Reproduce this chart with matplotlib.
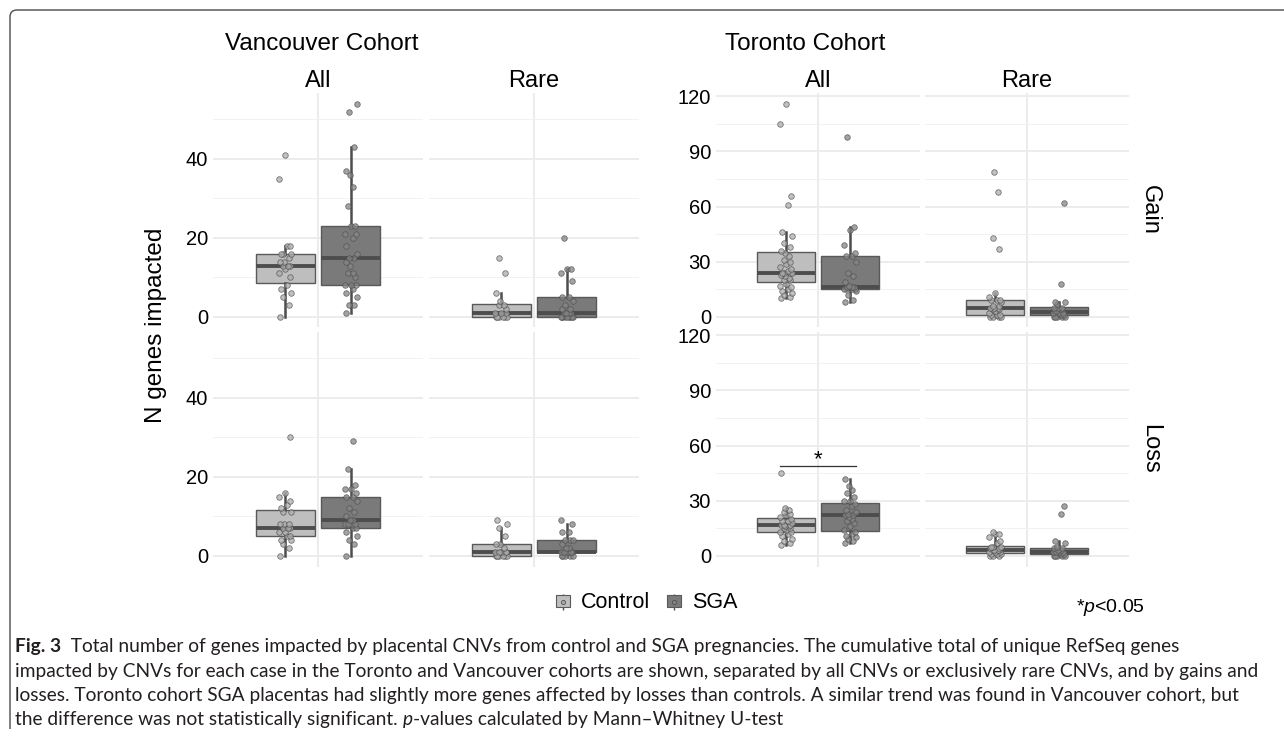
import numpy as np
import matplotlib.pyplot as plt
from matplotlib.lines import Line2D
from matplotlib.patches import Rectangle, PathPatch
from matplotlib.path import Path
from matplotlib.legend_handler import HandlerTuple

plt.rcParams['font.family'] = ['Liberation Sans', 'DejaVu Sans']
plt.rcParams['mathtext.fontset'] = 'custom'
plt.rcParams['mathtext.it'] = 'Liberation Sans:italic'
plt.rcParams['mathtext.rm'] = 'Liberation Sans'

groups = ['Control', 'SGA']
cnv_types = ['All', 'Rare']
events = ['Gain', 'Loss']
cohorts = ['Vancouver', 'Toronto']

# Vancouver cohort - N genes impacted per case
van_all_gain_ctrl = [0, 3, 5, 6, 7, 8, 10, 11, 12, 13, 13, 13, 14, 14, 15, 16, 16, 16, 18, 18, 35, 41]
van_all_gain_sga = [1, 3, 3, 5, 6, 7, 8, 8, 8, 10, 11, 11, 13, 14, 15, 15, 16, 18, 20, 21, 21, 23, 23,
                    28, 33, 36, 37, 43, 52, 54]
van_rare_gain_ctrl = [0, 0, 0, 0, 0, 0, 1, 1, 1, 2, 3, 3, 4, 6, 11, 15]
van_rare_gain_sga = [0, 0, 0, 0, 0, 0, 0, 0, 0, 1, 1, 1, 1, 2, 2, 3, 4, 5, 5, 9, 11, 12, 12, 20]
van_all_loss_ctrl = [0, 2, 3, 4, 4, 5, 5, 6, 6, 7, 7, 7, 8, 8, 8, 11, 11, 12, 13, 14, 15, 16, 30]
van_all_loss_sga = [0, 3, 4, 5, 6, 7, 7, 8, 8, 8, 8, 9, 9, 10, 11, 12, 14, 15, 15, 16, 17, 17, 18, 22, 29]
van_rare_loss_ctrl = [0, 0, 0, 0, 0, 0, 1, 1, 1, 1, 1, 2, 3, 3, 5, 7, 8, 9]
van_rare_loss_sga = [0, 0, 0, 0, 0, 1, 1, 1, 1, 1, 1, 2, 2, 3, 4, 4, 4, 6, 6, 8, 9]

# Toronto cohort
tor_all_gain_ctrl = [10, 11, 12, 13, 14, 15, 16, 17, 18, 20, 20, 21, 22, 23, 24, 24, 24, 24, 25, 26, 27,
                     29, 30, 31, 33, 35, 36, 38, 40, 44, 46, 61, 66, 105, 116]
tor_all_gain_sga = [8, 9, 12, 14, 15, 15, 15, 15, 16, 16, 16, 16, 17, 19, 22, 24, 30, 33, 33, 35, 39,
                    47, 49, 98]
tor_rare_gain_ctrl = [0, 0, 0, 0, 1, 1, 1, 2, 3, 4, 4, 5, 5, 5, 6, 6, 8, 9, 9, 9, 11, 13, 37, 43, 68, 79]
tor_rare_gain_sga = [0, 0, 0, 0, 0, 1, 1, 2, 2, 2, 3, 4, 5, 5, 5, 7, 8, 8, 18, 62]
tor_all_loss_ctrl = [6, 7, 8, 9, 11, 12, 13, 13, 14, 15, 15, 16, 16, 17, 17, 17, 18, 19, 19, 20, 21,
                     22, 23, 24, 25, 26, 45]
tor_all_loss_sga = [7, 8, 9, 10, 11, 12, 13, 14, 16, 18, 19, 20, 21, 22, 22, 23, 24, 25, 27, 28, 30,
                    30, 32, 34, 36, 38, 42]
tor_rare_loss_ctrl = [0, 0, 0, 1, 1, 1, 2, 2, 2, 3, 3, 3, 3, 4, 4, 5, 5, 5, 7, 8, 10, 12, 12, 13]
tor_rare_loss_sga = [0, 0, 0, 0, 0, 1, 1, 2, 2, 2, 2, 3, 3, 4, 4, 5, 7, 8, 23, 27]

data = {
    ('Vancouver', 'Gain', 'All'): (van_all_gain_ctrl, van_all_gain_sga),
    ('Vancouver', 'Gain', 'Rare'): (van_rare_gain_ctrl, van_rare_gain_sga),
    ('Vancouver', 'Loss', 'All'): (van_all_loss_ctrl, van_all_loss_sga),
    ('Vancouver', 'Loss', 'Rare'): (van_rare_loss_ctrl, van_rare_loss_sga),
    ('Toronto', 'Gain', 'All'): (tor_all_gain_ctrl, tor_all_gain_sga),
    ('Toronto', 'Gain', 'Rare'): (tor_rare_gain_ctrl, tor_rare_gain_sga),
    ('Toronto', 'Loss', 'All'): (tor_all_loss_ctrl, tor_all_loss_sga),
    ('Toronto', 'Loss', 'Rare'): (tor_rare_loss_ctrl, tor_rare_loss_sga),
}
significant = [('Toronto', 'Loss', 'All')]

major_ticks = {'Vancouver': [0, 20, 40], 'Toronto': [0, 30, 60, 90, 120]}
minor_ticks = {'Vancouver': [10, 30, 50], 'Toronto': [15, 45, 75, 105]}

box_fill = ['#bebebe', '#7a7a7a']
pt_fill = ['#acacac', '#858585']
edge_col = '#595959'
line_col = '#4d4d4d'

W, H = 1284, 737
fig = plt.figure(figsize=(W / 100, H / 100), dpi=100)


def px_axes(x, y, w, h):
    return fig.add_axes([x / W, 1 - (y + h) / H, w / W, h / H])


def fy(y):
    return 1 - y / H


panel_x = {'Vancouver': [213, 429], 'Toronto': [716, 925]}
panel_w = {'Vancouver': 210, 'Toronto': 204}
row_y = [93, 332]
row_h = 234.5

dodge = 0.1875
box_w = 0.3375
jit = np.array([-0.03, 0.02, -0.01, 0.035, -0.025, 0.01, 0.03, -0.035, 0.0, 0.025, -0.015, 0.015, -0.005])

for cohort in cohorts:
    allv = [v for k, pair in data.items() if k[0] == cohort for g in pair for v in g]
    ymax = max(allv)
    ylo, yhi = -0.05 * ymax, 1.05 * ymax
    for r, ev in enumerate(events):
        for c, ty in enumerate(cnv_types):
            ax = px_axes(panel_x[cohort][c], row_y[r], panel_w[cohort], row_h)
            pair = data[(cohort, ev, ty)]
            for gi, vals in enumerate(pair):
                pos = 1 + (gi * 2 - 1) * dodge
                ax.boxplot(vals, positions=[pos], widths=box_w, whis=1.5, showfliers=False,
                           showcaps=False, patch_artist=True, manage_ticks=False,
                           boxprops=dict(facecolor=box_fill[gi], edgecolor=edge_col, lw=1.0),
                           medianprops=dict(color=line_col, lw=2.8, solid_capstyle='butt'),
                           whiskerprops=dict(color=line_col, lw=1.8), zorder=2)
                vals = np.array(vals)
                xs = pos + np.resize(jit, len(vals))
                ax.scatter(xs, vals, s=16, facecolor=pt_fill[gi], edgecolor='#505050',
                           linewidth=0.6, alpha=0.75, zorder=3)
            if (cohort, ev, ty) in significant:
                top = max(max(pair[0]), max(pair[1]))
                sig_y = top + 0.035 * ymax
                ax.plot([1 - dodge - 0.035, 1 + dodge + 0.035], [sig_y, sig_y], color='#333333', lw=0.9,
                        zorder=3)
                ax.text(1, sig_y, '*', ha='center', va='baseline', fontsize=16)
            ax.set_xlim(0.4, 1.6)
            ax.set_ylim(ylo, yhi)
            ax.set_xticks([1])
            ax.set_xticklabels([])
            ax.set_yticks(major_ticks[cohort])
            ax.set_yticks(minor_ticks[cohort], minor=True)
            ax.tick_params(which='both', length=0, labelsize=14.5, pad=3.6, colors='black')
            if c > 0:
                ax.set_yticklabels([])
            ax.grid(which='major', color='#ebebeb', lw=1.3)
            ax.grid(which='minor', axis='y', color='#f2f2f2', lw=0.7)
            ax.set_axisbelow(True)
            for s in ax.spines.values():
                s.set_visible(False)
            if r == 0:
                fig.text((panel_x[cohort][c] + panel_w[cohort] / 2) / W, fy(87), ty,
                         ha='center', va='baseline', fontsize=17)
            if cohort == 'Toronto' and c == 1:
                fig.text(1150 / W, fy(row_y[r] + row_h / 2), ev, rotation=-90,
                         ha='center', va='center', fontsize=17)

fig.text(225 / W, fy(50), 'Vancouver Cohort', ha='left', va='baseline', fontsize=17.5)
fig.text(725 / W, fy(50), 'Toronto Cohort', ha='left', va='baseline', fontsize=17.5)
fig.text(156 / W, fy(325), 'N genes impacted', rotation=90, ha='center', va='center', fontsize=17.5)

# legend with small boxplot glyphs
handles = []
for gi in range(2):
    handles.append((Line2D([], [], marker='|', ms=12, mew=1.0, color=line_col, ls='none'),
                    Rectangle((0, 0), 1, 1, facecolor=box_fill[gi], edgecolor=edge_col, lw=0.8),
                    Line2D([], [], marker='o', ms=3.0, mfc=pt_fill[gi], mec='#505050', mew=0.6, ls='none')))
fig.legend(handles, groups, loc='center', bbox_to_anchor=(647 / W, fy(603)), ncol=2, frameon=False,
           handler_map={tuple: HandlerTuple(ndivide=1, pad=0)}, fontsize=15.5, handlelength=0.65,
           handleheight=0.45, columnspacing=0.8, handletextpad=0.5)
fig.text(1076 / W, fy(607), r'*$p$<0.05', ha='left', va='center', fontsize=14)

# outer frame with rounded corner
frame = Path([(W / W, fy(10)), (17 / W, fy(10)), (10 / W, fy(10)), (10 / W, fy(17)), (10 / W, fy(729))],
             [Path.MOVETO, Path.LINETO, Path.CURVE3, Path.CURVE3, Path.LINETO])
fig.add_artist(PathPatch(frame, transform=fig.transFigure, fill=False, edgecolor='#5a5a5a', lw=1.1))

# caption
renderer = fig.canvas.get_renderer()
cap_font = ['Lato', 'DejaVu Sans']
cap_size = 13.8
caption = [
    [('Fig. 3', 'bold', 'normal'), ('  Total number of genes impacted by placental CNVs from control and SGA '
                                    'pregnancies. The cumulative total of unique RefSeq genes', 'normal', 'normal')],
    [('impacted by CNVs for each case in the Toronto and Vancouver cohorts are shown, separated by all CNVs '
      'or exclusively rare CNVs, and by gains and', 'normal', 'normal')],
    [('losses. Toronto cohort SGA placentas had slightly more genes affected by losses than controls. '
      'A similar trend was found in Vancouver cohort, but', 'normal', 'normal')],
    [('the difference was not statistically significant. ', 'normal', 'normal'), ('p', 'normal', 'italic'),
     ('-values calculated by Mann\u2013Whitney U-test', 'normal', 'normal')],
]
baselines = [652, 676.5, 701, 725.5]
for line, yb in zip(caption, baselines):
    x = 15
    for txt, wt, st in line:
        t = fig.text(x / W, fy(yb), txt, ha='left', va='baseline', fontsize=cap_size,
                     family=cap_font, weight=wt, style=st, color='#231f20')
        x += t.get_window_extent(renderer=renderer).width

fig.savefig('out.png', dpi=100)
